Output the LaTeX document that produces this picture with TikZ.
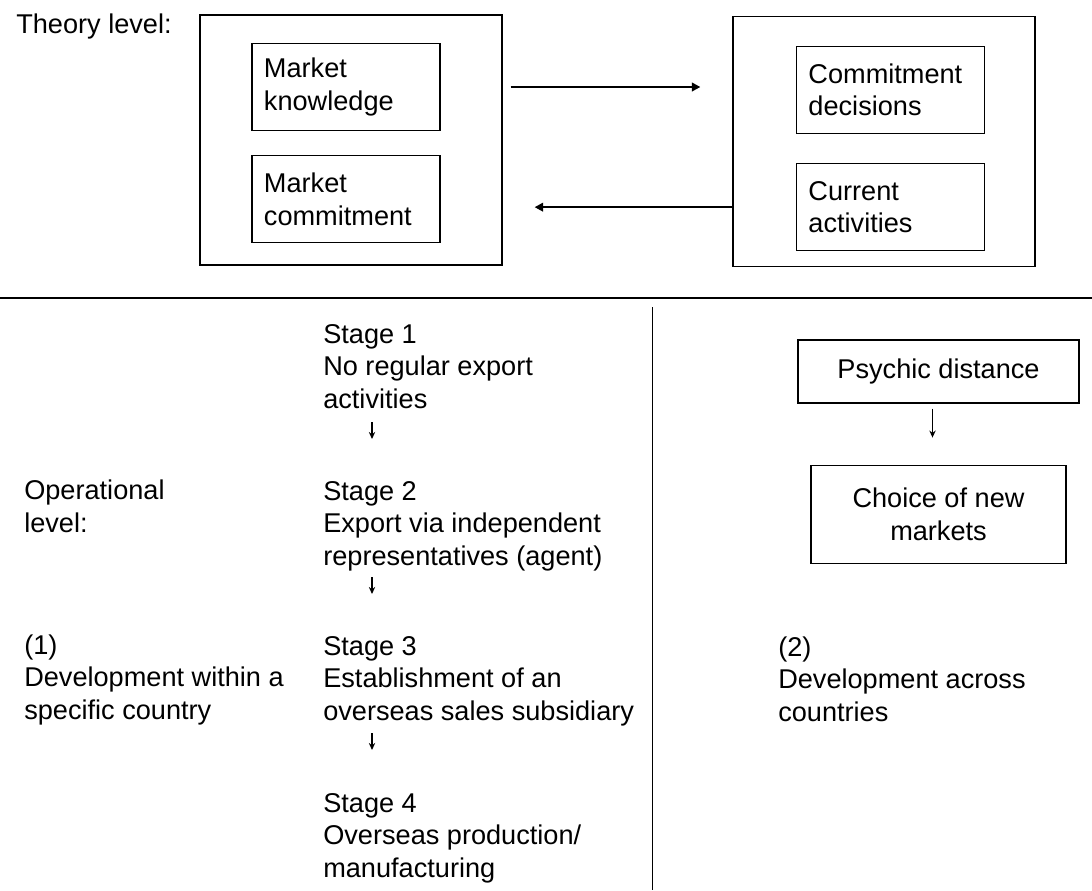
\documentclass[tikz,border=0pt]{standalone}
\usepackage{fontspec}
\setmainfont{Liberation Sans}
\usepackage{tikz}
\usetikzlibrary{arrows.meta,positioning,calc}

\begin{document}
\begin{tikzpicture}[
  x=0.025cm, y=-0.025cm,
  font=\fontsize{19.3}{23.1}\selectfont,
  txt/.style={inner sep=0pt, anchor=base west, align=left},
  bigbox/.style={draw, line width=0.8pt, minimum width=7.55cm, minimum height=6.25cm},
  inbox/.style={draw, line width=0.8pt, minimum width=4.7cm, minimum height=2.175cm,
    text width=4.1cm, inner xsep=0.3cm, align=left},
  opbox/.style={draw, line width=0.8pt, align=center},
  fb/.style={-{Triangle[length=6pt,width=6pt]}, line width=1.5pt},
  small/.style={-{Stealth[length=5pt,width=4.5pt]}, line width=0.9pt},
]
  \useasboundingbox (0,0) rectangle (1092,890);

  % Theory level
  \node[txt] (theory) at (16,33) {Theory level:};
  \node[bigbox] (thL) at (351,140) {};
  \node[bigbox] (thR) at (884,141.5) {};
  \node[inbox] (kn) at (346,87) {Market\\knowledge};
  \node[inbox, below=0.6cm of kn] (mc) {Market\\commitment};
  \node[inbox] (cd) at (890.5,90) {Commitment\\decisions};
  \node[inbox, below=0.725cm of cd] (ca) {Current\\activities};

  \draw[fb, shorten <=0.2cm, shorten >=0.8cm] (kn.east -| thL.east) -- (kn.east -| thR.west);
  \draw[fb, shorten >=0.8cm] (ca.west -| thR.west) -- (ca.west -| thL.east);

  % Separators
  \coordinate (hl) at (0,298);
  \coordinate (hr) at (1092,298);
  \coordinate (vt) at (652,307);
  \coordinate (vb) at (652,890);
  \draw[line width=1.4pt] (hl) -- (hr);
  \draw[line width=0.6pt] (vt) -- (vb);

  % Operational level (base = last line)
  \node[txt] (oper) at (24,532) {Operational\\level:};
  \node[txt] (dev1) at (24,719) {(1)\\Development within a\\specific country};

  \node[txt] (st1) at (323,408) {Stage 1\\No regular export\\activities};
  \node[txt] (st2) at (323,565) {Stage 2\\Export via independent\\representatives (agent)};
  \node[txt] (st3) at (323,720) {Stage 3\\Establishment of an\\overseas sales subsidiary};
  \node[txt] (st4) at (323,877) {Stage 4\\Overseas production/\\manufacturing};

  \foreach \i/\y in {1/422,2/577,3/733} {
    \coordinate (d\i a) at (372,\y);
    \coordinate (d\i b) at (372,\y+17);
    \draw[small] (d\i a) -- (d\i b);
  }

  \node[opbox, minimum width=7.025cm, minimum height=1.575cm] (psy) at (938.5,371.5) {Psychic distance};
  \node[opbox, minimum width=6.375cm, minimum height=2.45cm, below=1.525cm of psy] (cho) {Choice of new\\markets};
  \draw[small, shorten <=0.125cm, shorten >=0.675cm] ([xshift=-0.15cm]psy.south) -- ([xshift=-0.15cm]cho.north);

  \node[txt] (dev2) at (778,721) {(2)\\Development across\\countries};
\end{tikzpicture}
\end{document}
